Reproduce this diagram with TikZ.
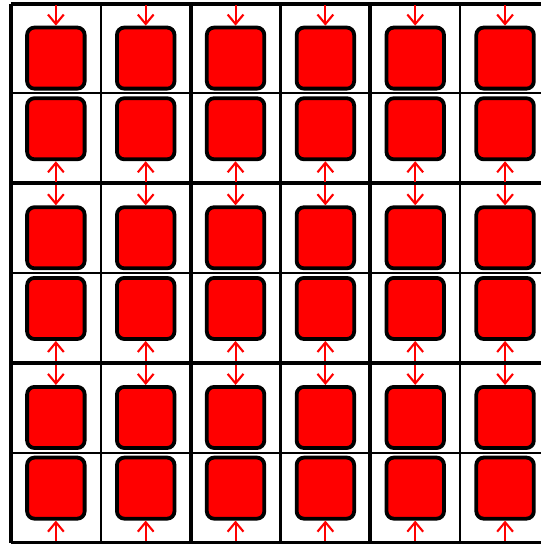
\documentclass[tikz,border=0pt]{standalone}
\usetikzlibrary{arrows.meta}

\begin{document}
\begin{tikzpicture}[
  tile/.style={draw, line width=1.8pt, rounded corners=3.5pt, fill=red,
               minimum width=0.96cm, minimum height=1.02cm, inner sep=0pt},
  push/.style={red, line width=1pt, shorten <=0.8pt,
               -{Straight Barb[length=4.5pt, width=7.5pt]}}
]
  \useasboundingbox (-0.183,0.06) rectangle (8.85,-9.023);

  % cell lines, thicker round each block of two rows / two columns
  \draw[line width=1pt, step=1.5] (0,0) grid (8.85,-9);
  \draw[line width=1.8pt, step=3] (0,0) grid (8.85,-9);

  \foreach \c in {0,...,5} {
    \foreach \b in {0,1,2} {
      \pgfmathsetmacro\x{1.5*\c+0.75}
      \pgfmathsetmacro\ym{-3*\b-1.5}
      \node[tile] (top-\c-\b) at (\x,\ym+0.59) {};
      \node[tile] (bot-\c-\b) at (\x,\ym-0.59) {};
      \coordinate (in-\c-\b) at (\x,\ym+1.5);
      \coordinate (out-\c-\b) at (\x,\ym-1.5);
      \draw[push] (in-\c-\b) -- (top-\c-\b.north);
      \draw[push] (out-\c-\b) -- (bot-\c-\b.south);
    }
  }
\end{tikzpicture}
\end{document}
